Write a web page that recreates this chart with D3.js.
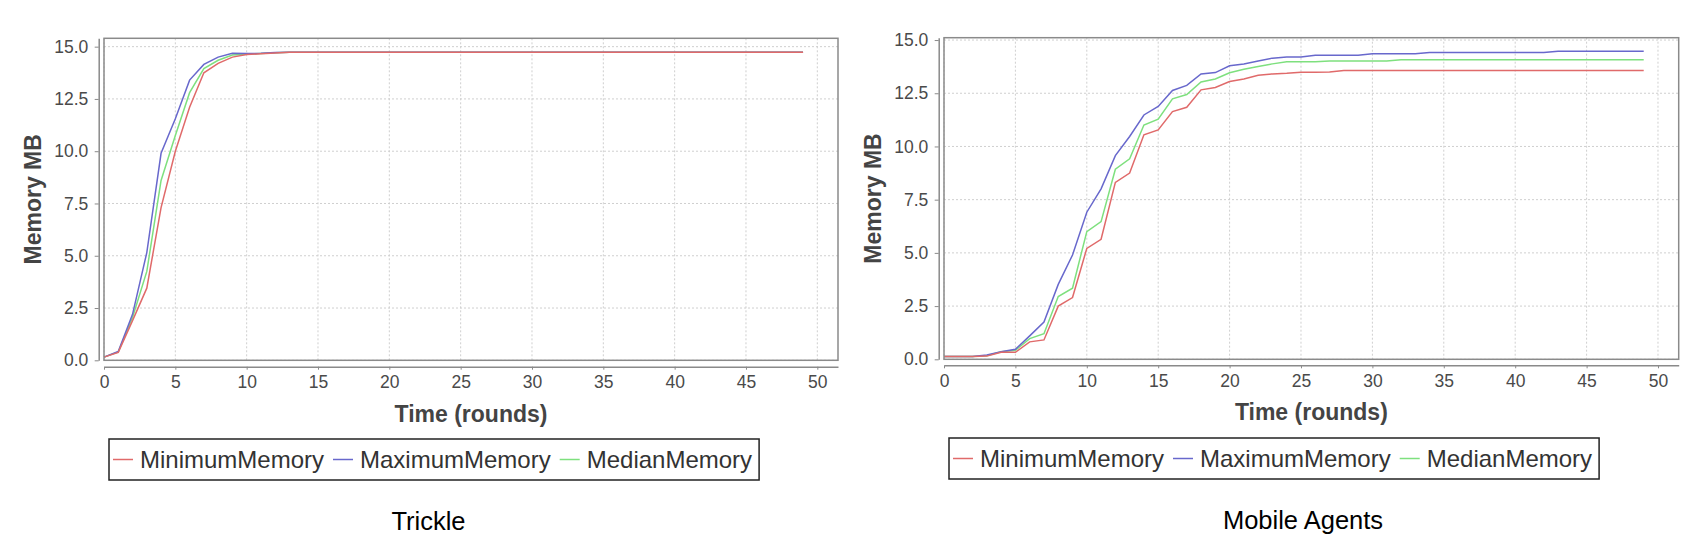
<!DOCTYPE html>
<html>
<head>
<meta charset="utf-8">
<script src="https://cdn.jsdelivr.net/npm/d3@7"></script>
<style>
  body { margin: 0; background: #fff; }
  text { font-family: "Liberation Sans", Arial, sans-serif; }
</style>
</head>
<body>
<div id="chart"></div>
<script>
//////////////////////// Data ////////////////////////
// one value per round (index = round)
var trickleMin = [0.15, 0.38, 1.9, 3.45, 7.3, 10.0, 12.1, 13.75, 14.2, 14.5,
  14.62, 14.66, 14.7, 14.73, 14.73, 14.73, 14.73, 14.73, 14.73, 14.73,
  14.73, 14.73, 14.73, 14.73, 14.73, 14.73, 14.73, 14.73, 14.73, 14.73,
  14.73, 14.73, 14.73, 14.73, 14.73, 14.73, 14.73, 14.73, 14.73, 14.73,
  14.73, 14.73, 14.73, 14.73, 14.73, 14.73, 14.73, 14.73, 14.73, 14.73];
var trickleMax = [0.15, 0.42, 2.2, 5.15, 9.9, 11.55, 13.4, 14.15, 14.5, 14.68,
  14.67, 14.68, 14.72, 14.73, 14.73, 14.73, 14.73, 14.73, 14.73, 14.73,
  14.73, 14.73, 14.73, 14.73, 14.73, 14.73, 14.73, 14.73, 14.73, 14.73,
  14.73, 14.73, 14.73, 14.73, 14.73, 14.73, 14.73, 14.73, 14.73, 14.73,
  14.73, 14.73, 14.73, 14.73, 14.73, 14.73, 14.73, 14.73, 14.73, 14.73];
var trickleMedian = [0.15, 0.4, 2.05, 4.25, 8.6, 10.75, 12.8, 13.95, 14.35, 14.6,
  14.64, 14.67, 14.71, 14.73, 14.73, 14.73, 14.73, 14.73, 14.73, 14.73,
  14.73, 14.73, 14.73, 14.73, 14.73, 14.73, 14.73, 14.73, 14.73, 14.73,
  14.73, 14.73, 14.73, 14.73, 14.73, 14.73, 14.73, 14.73, 14.73, 14.73,
  14.73, 14.73, 14.73, 14.73, 14.73, 14.73, 14.73, 14.73, 14.73, 14.73];

var agentsMin = [0.13, 0.13, 0.13, 0.15, 0.33, 0.33, 0.82, 0.91, 2.5, 2.9,
  5.21, 5.64, 8.31, 8.75, 10.55, 10.78, 11.64, 11.84, 12.66, 12.77,
  13.05, 13.17, 13.35, 13.41, 13.44, 13.49, 13.49, 13.5, 13.57, 13.57,
  13.57, 13.57, 13.57, 13.57, 13.57, 13.57, 13.57, 13.57, 13.57, 13.57,
  13.57, 13.57, 13.57, 13.57, 13.57, 13.57, 13.57, 13.57, 13.57, 13.57];
var agentsMax = [0.13, 0.13, 0.13, 0.2, 0.36, 0.47, 1.1, 1.75, 3.52, 4.9,
  6.91, 8.01, 9.57, 10.47, 11.48, 11.88, 12.63, 12.87, 13.41, 13.47,
  13.79, 13.87, 14.02, 14.15, 14.2, 14.2, 14.28, 14.28, 14.28, 14.28,
  14.36, 14.36, 14.36, 14.36, 14.42, 14.42, 14.42, 14.42, 14.42, 14.42,
  14.42, 14.42, 14.42, 14.47, 14.47, 14.47, 14.47, 14.47, 14.47, 14.47];
var agentsMedian = [0.13, 0.13, 0.13, 0.17, 0.35, 0.42, 0.97, 1.2, 2.95, 3.34,
  6.0, 6.47, 8.93, 9.42, 11.01, 11.28, 12.24, 12.44, 13.03, 13.17,
  13.46, 13.63, 13.76, 13.88, 13.98, 13.98, 13.98, 14.01, 14.01, 14.01,
  14.01, 14.01, 14.07, 14.07, 14.07, 14.07, 14.07, 14.07, 14.07, 14.07,
  14.07, 14.07, 14.07, 14.07, 14.07, 14.07, 14.07, 14.07, 14.07, 14.07];

var seriesNames = ["MinimumMemory", "MaximumMemory", "MedianMemory"];
var xTicks = [0, 5, 10, 15, 20, 25, 30, 35, 40, 45, 50];
var yTicks = [0, 2.5, 5, 7.5, 10, 12.5, 15];
var captions = ["Trickle", "Mobile Agents"];

//////////////////////// Layout ////////////////////////
var W = 1696, H = 560;
var colors = ["#e06a6a", "#6868cc", "#7ee07e"];
var xMax = 51.45;

var panels = [
  { caption: captions[0], series: [trickleMin, trickleMax, trickleMedian],
    left: 104, right: 838, top: 38.3, bottom: 360.3, yTop: 15.4,
    xAxisY: 366.7, yAxisX: 98.7, legendTop: 439, legendBottom: 480,
    capX: 428.5, capY: 530 },
  { caption: captions[1], series: [agentsMin, agentsMax, agentsMedian],
    left: 944, right: 1678.7, top: 37.7, bottom: 359.3, yTop: 15.11,
    xAxisY: 365.3, yAxisX: 938.7, legendTop: 438, legendBottom: 479,
    capX: 1303, capY: 529.3 }
];

var svg = d3.select("#chart").append("svg")
  .attr("width", W)
  .attr("height", H);

svg.append("rect").attr("width", W).attr("height", H).attr("fill", "#fff");

panels.forEach(drawPanel);

function drawPanel(p) {
  var g = svg.append("g");

  var x = d3.scaleLinear().domain([0, xMax]).range([p.left, p.right]);
  var y = d3.scaleLinear().domain([0, p.yTop]).range([p.bottom, p.top]);

  //grid
  g.append("g").selectAll("line.hg")
    .data(yTicks)
    .enter().append("line")
    .attr("x1", p.left).attr("x2", p.right)
    .attr("y1", function(d) { return y(d); })
    .attr("y2", function(d) { return y(d); })
    .style("stroke", "#cfcfcf")
    .style("stroke-width", 1)
    .style("stroke-dasharray", "2,2");

  g.append("g").selectAll("line.vg")
    .data(xTicks)
    .enter().append("line")
    .attr("x1", function(d) { return x(d); })
    .attr("x2", function(d) { return x(d); })
    .attr("y1", p.top).attr("y2", p.bottom)
    .style("stroke", "#cfcfcf")
    .style("stroke-width", 1)
    .style("stroke-dasharray", "2,2");

  //series, drawn last-to-first so the first series ends up on top
  var line = d3.line()
    .x(function(d, i) { return x(i); })
    .y(function(d) { return y(d); });

  var order = p.series.map(function(s, i) { return { values: s, color: colors[i] }; }).reverse();

  g.append("g").selectAll("path")
    .data(order)
    .enter().append("path")
    .attr("d", function(d) { return line(d.values); })
    .style("fill", "none")
    .style("stroke", function(d) { return d.color; })
    .style("stroke-width", 1.5);

  //plot outline
  g.append("rect")
    .attr("x", p.left).attr("y", p.top)
    .attr("width", p.right - p.left)
    .attr("height", p.bottom - p.top)
    .style("fill", "none")
    .style("stroke", "#8a8a8a")
    .style("stroke-width", 1.5);

  //y axis
  var yAxis = d3.axisLeft(y)
    .tickValues(yTicks)
    .tickFormat(d3.format(".1f"))
    .tickSize(4)
    .tickSizeOuter(0)
    .tickPadding(6.4);
  var ya = g.append("g")
    .attr("transform", "translate(" + p.yAxisX + ",0)")
    .call(yAxis);

  //x axis
  var xAxis = d3.axisBottom(x)
    .tickValues(xTicks)
    .tickFormat(d3.format("d"))
    .tickSize(3)
    .tickSizeOuter(0)
    .tickPadding(6.3);
  var xa = g.append("g")
    .attr("transform", "translate(0," + p.xAxisY + ")")
    .call(xAxis);

  [ya, xa].forEach(function(a) {
    a.select(".domain").style("stroke", "#8a8a8a").style("stroke-width", 1.5);
    a.selectAll(".tick line").style("stroke", "#8a8a8a").style("stroke-width", 1);
    a.selectAll(".tick text")
      .style("font-family", "'Liberation Sans', Arial, sans-serif")
      .style("font-size", "17.5px")
      .style("fill", "#4a4a4a");
  });

  //axis titles
  g.append("text")
    .attr("transform", "translate(" + (p.yAxisX - 58.2) + "," + ((p.top + p.bottom) / 2) + ") rotate(-90)")
    .attr("text-anchor", "middle")
    .style("font-size", "23px")
    .style("font-weight", "bold")
    .style("fill", "#444")
    .text("Memory MB");

  g.append("text")
    .attr("x", (p.left + p.right) / 2)
    .attr("y", p.xAxisY + 54.8)
    .attr("text-anchor", "middle")
    .style("font-size", "23px")
    .style("font-weight", "bold")
    .style("fill", "#444")
    .text("Time (rounds)");

  //legend
  var legend = g.append("g");
  var ly = (p.legendTop + p.legendBottom) / 2;
  var box = legend.append("rect")
    .attr("x", p.left + 5)
    .attr("y", p.legendTop)
    .attr("height", p.legendBottom - p.legendTop)
    .style("fill", "#fff")
    .style("stroke", "#222")
    .style("stroke-width", 1.5);

  var cx = p.left + 9;
  seriesNames.forEach(function(name, i) {
    legend.append("line")
      .attr("x1", cx).attr("x2", cx + 20)
      .attr("y1", ly).attr("y2", ly)
      .style("stroke", colors[i])
      .style("stroke-width", 1.5);
    var t = legend.append("text")
      .attr("x", cx + 27)
      .attr("y", ly)
      .attr("dy", "0.35em")
      .style("font-size", "24px")
      .style("fill", "#333")
      .text(name);
    cx = cx + 27 + t.node().getComputedTextLength() + 9;
  });
  box.attr("width", cx - 2 - (p.left + 5));

  //caption
  g.append("text")
    .attr("x", p.capX)
    .attr("y", p.capY)
    .attr("text-anchor", "middle")
    .style("font-size", "25.5px")
    .style("fill", "#000")
    .text(p.caption);
}
</script>
</body>
</html>
